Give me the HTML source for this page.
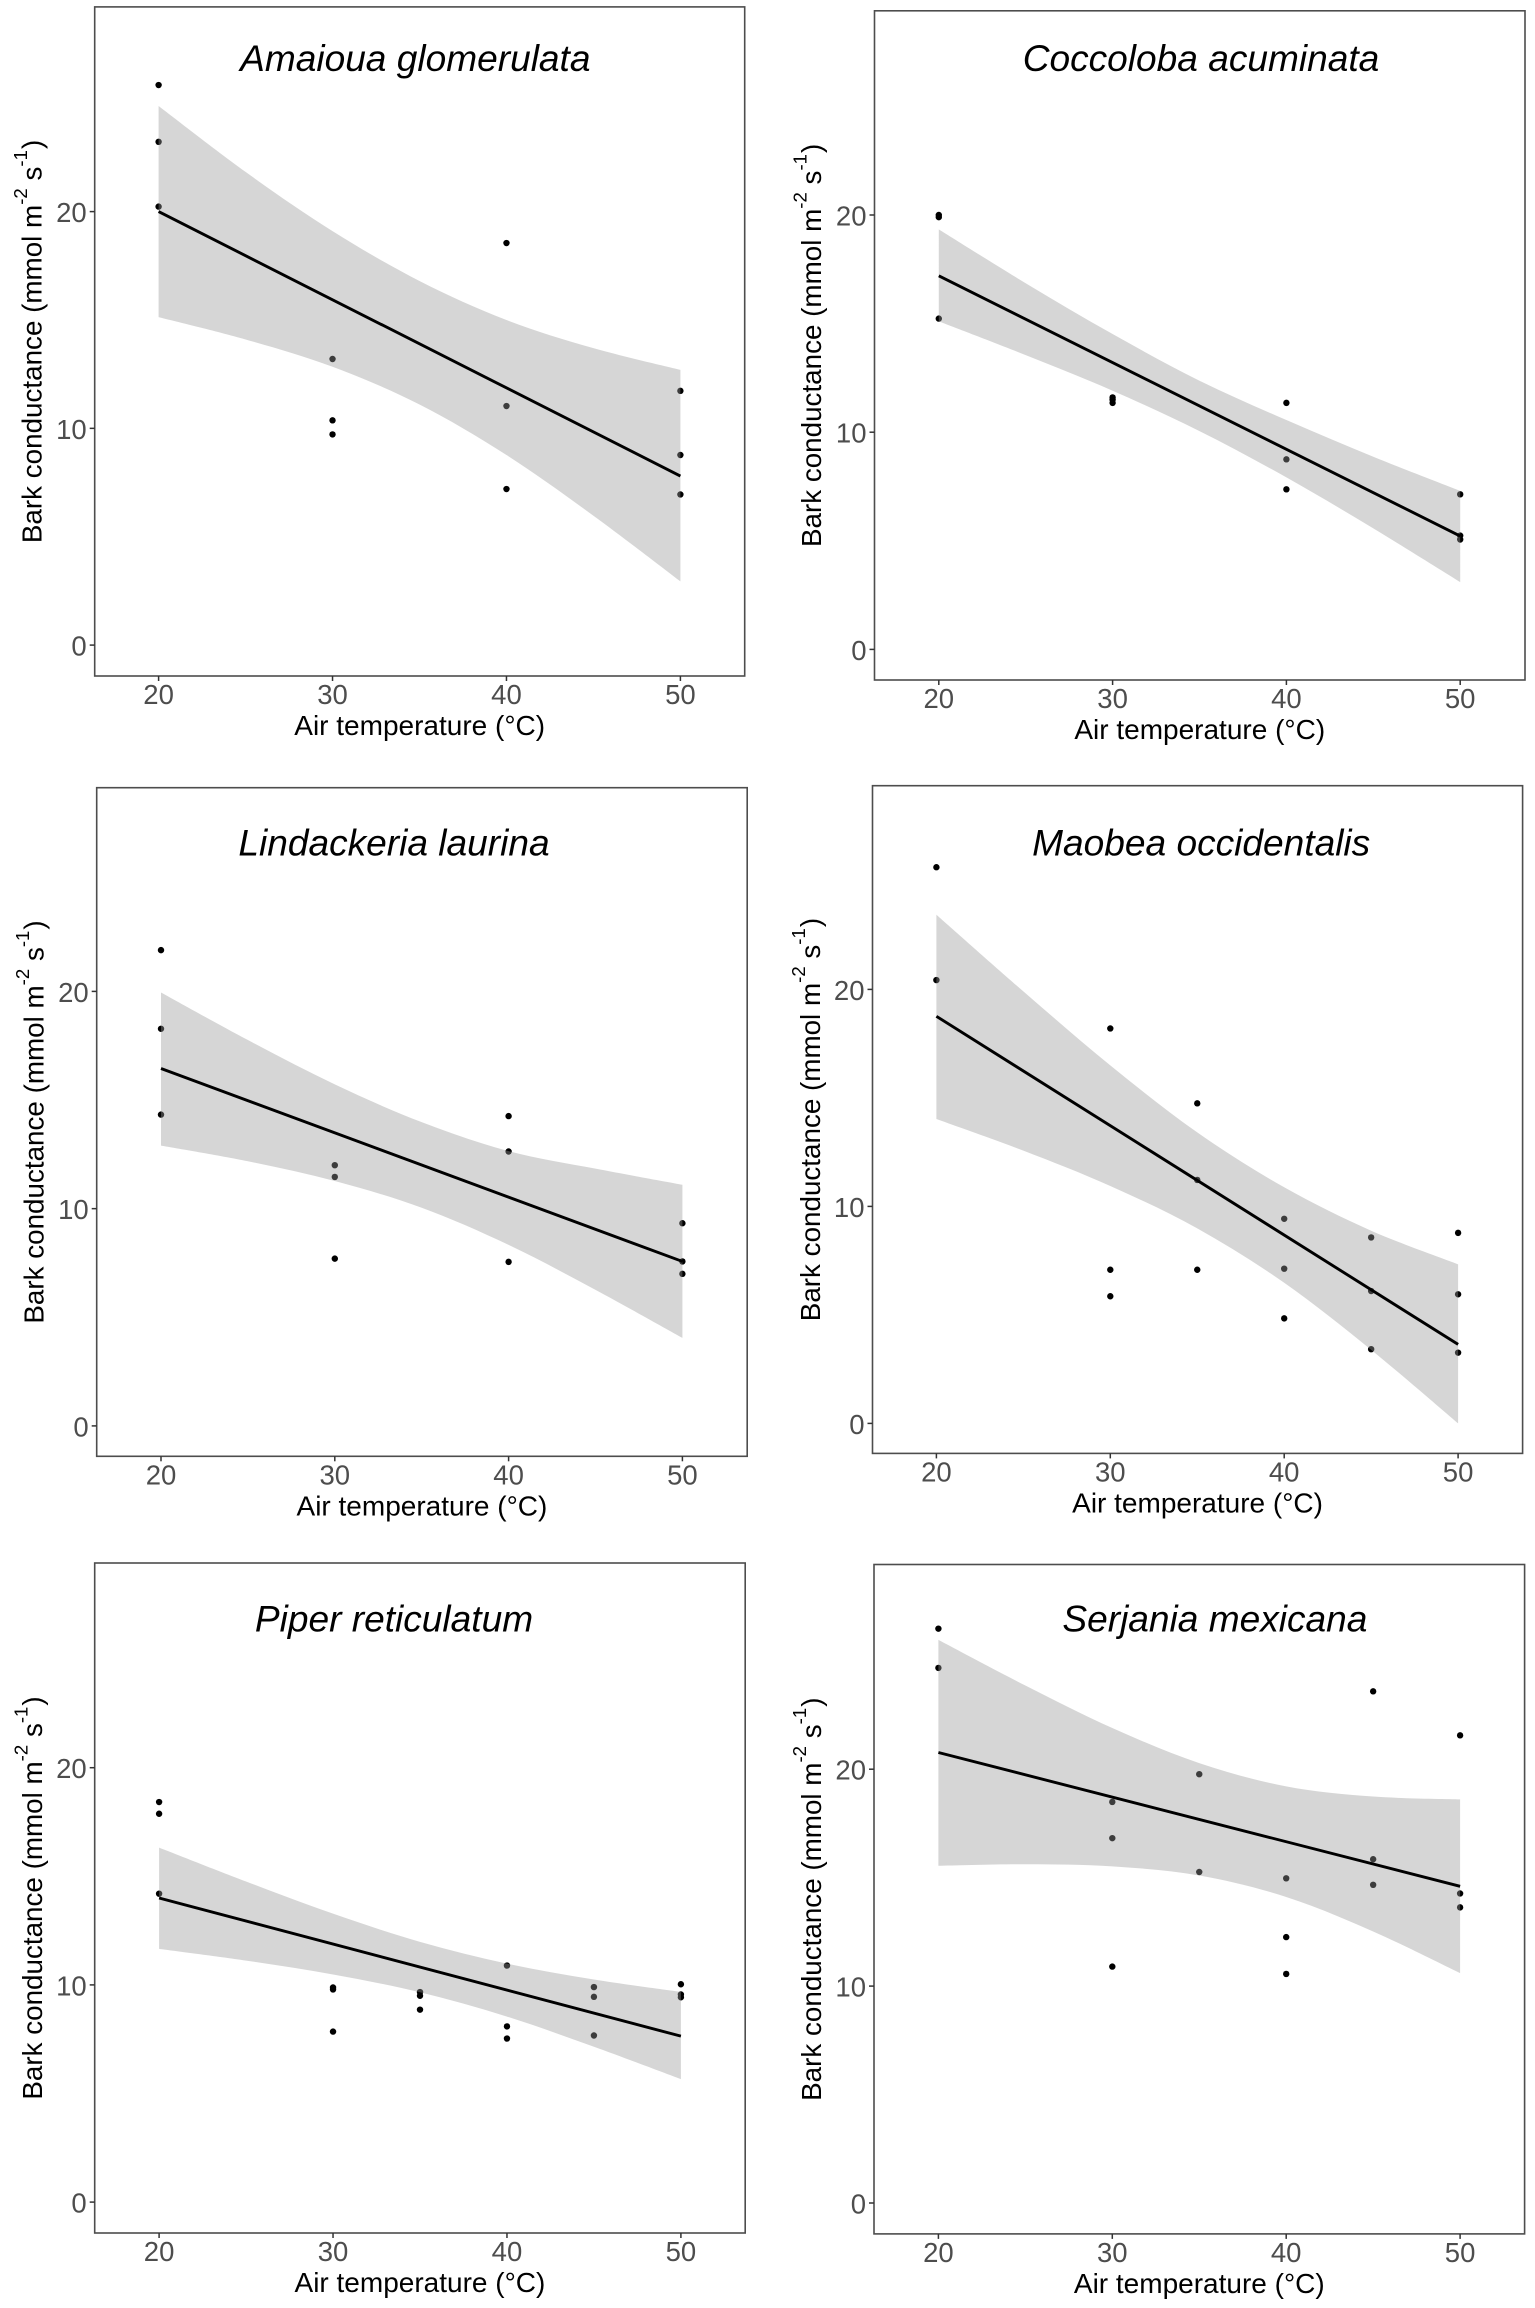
<!DOCTYPE html>
<html lang="en">
<head>
<meta charset="utf-8">
<title>Bark conductance vs air temperature</title>
<style>
  html, body { margin: 0; padding: 0; background: #ffffff; }
  svg { display: block; font-family: "Liberation Sans", Arial, sans-serif; }
  text { white-space: pre; }
</style>
</head>
<body>
<svg id="figure" xmlns="http://www.w3.org/2000/svg" width="1535" height="2308" viewBox="0 0 1535 2308"></svg>
<script>
const xTickValues = [20, 30, 40, 50];
const yTickValues = [0, 10, 20];
const bandTemps = [20, 25, 30, 35, 40, 45, 50];
const fitTemps = [20, 50];

const amaiouaTitle = "Amaioua glomerulata";
const amaiouaTemp = [20, 20, 20, 30, 30, 30, 40, 40, 40, 50, 50, 50];
const amaiouaCond = [25.84, 23.22, 20.23, 13.2, 10.37, 9.72, 18.55, 11.03, 7.2, 11.73, 8.77, 6.95];
const amaiouaFit = [20.0, 7.8];
const amaiouaUpper = [24.87, 21.83, 19.1, 16.8, 15.0, 13.7, 12.7];
const amaiouaLower = [15.13, 14.1, 12.84, 11.1, 8.77, 5.97, 2.94];

const coccolobaTitle = "Coccoloba acuminata";
const coccolobaTemp = [20, 20, 20, 30, 30, 30, 40, 40, 40, 50, 50, 50];
const coccolobaCond = [20.0, 19.9, 15.23, 11.6, 11.5, 11.35, 11.35, 8.75, 7.37, 7.14, 5.24, 5.06];
const coccolobaFit = [17.2, 5.22];
const coccolobaUpper = [19.34, 16.86, 14.52, 12.37, 10.56, 8.87, 7.3];
const coccolobaLower = [15.1, 13.55, 11.91, 10.05, 7.92, 5.57, 3.1];

const lindackeriaTitle = "Lindackeria laurina";
const lindackeriaTemp = [20, 20, 20, 30, 30, 30, 40, 40, 40, 50, 50, 50];
const lindackeriaCond = [21.9, 18.28, 14.33, 12.0, 11.46, 7.7, 14.26, 12.63, 7.55, 9.33, 7.57, 7.0];
const lindackeriaFit = [16.45, 7.57];
const lindackeriaUpper = [19.95, 17.76, 15.72, 13.98, 12.65, 11.84, 11.1];
const lindackeriaLower = [12.9, 12.18, 11.27, 10.04, 8.33, 6.26, 4.05];

const maobeaTitle = "Maobea occidentalis";
const maobeaTemp = [20, 20, 30, 30, 30, 35, 35, 35, 40, 40, 40, 45, 45, 45, 50, 50, 50];
const maobeaCond = [25.63, 20.43, 18.2, 7.08, 5.86, 14.75, 11.22, 7.08, 9.43, 7.13, 4.84, 8.57, 6.1, 3.42, 8.78, 5.95, 3.26];
const maobeaFit = [18.76, 3.64];
const maobeaUpper = [23.44, 19.91, 16.5, 13.41, 10.88, 8.88, 7.33];
const maobeaLower = [14.03, 12.57, 10.94, 8.99, 6.48, 3.39, 0.0];

const piperTitle = "Piper reticulatum";
const piperTemp = [20, 20, 20, 30, 30, 30, 35, 35, 35, 40, 40, 40, 45, 45, 45, 50, 50, 50];
const piperCond = [18.42, 17.88, 14.2, 9.88, 9.79, 7.85, 9.67, 9.5, 8.86, 10.89, 8.09, 7.53, 9.9, 9.45, 7.67, 10.03, 9.56, 9.43];
const piperFit = [14.0, 7.64];
const piperUpper = [16.32, 14.76, 13.28, 11.98, 10.98, 10.25, 9.68];
const piperLower = [11.66, 11.12, 10.48, 9.66, 8.54, 7.15, 5.66];

const serjaniaTitle = "Serjania mexicana";
const serjaniaTemp = [20, 20, 30, 30, 30, 35, 35, 40, 40, 40, 45, 45, 45, 50, 50, 50];
const serjaniaCond = [26.48, 24.67, 18.49, 16.82, 10.9, 19.77, 15.26, 14.97, 12.26, 10.56, 23.59, 15.85, 14.67, 21.56, 14.27, 13.63];
const serjaniaFit = [20.77, 14.6];
const serjaniaUpper = [25.96, 23.86, 21.9, 20.28, 19.21, 18.74, 18.61];
const serjaniaLower = [15.55, 15.62, 15.52, 15.1, 14.11, 12.52, 10.6];

const xAxisLabel = "Air temperature (°C)";
const yAxisLabelMain = "Bark conductance (mmol m";
const yAxisLabelSup1 = "-2";
const yAxisLabelMid = " s";
const yAxisLabelSup2 = "-1";
const yAxisLabelEnd = ")";

const panels = [
  { key: "amaioua", title: amaiouaTitle, temp: amaiouaTemp, cond: amaiouaCond, fit: amaiouaFit, upper: amaiouaUpper, lower: amaiouaLower,
    box: { L: 94.7, R: 744.7, T: 6.9, B: 676, x20: 158.6, x50: 680.4, y0: 645.1, y20: 211.6, titleX: 415.3, titleY: 71.2, yTitleX: 41.7 } },
  { key: "coccoloba", title: coccolobaTitle, temp: coccolobaTemp, cond: coccolobaCond, fit: coccolobaFit, upper: coccolobaUpper, lower: coccolobaLower,
    box: { L: 874.5, R: 1525, T: 10.8, B: 680, x20: 938.8, x50: 1460.2, y0: 649.4, y20: 215.0, titleX: 1201, titleY: 71.2, yTitleX: 821.2 } },
  { key: "lindackeria", title: lindackeriaTitle, temp: lindackeriaTemp, cond: lindackeriaCond, fit: lindackeriaFit, upper: lindackeriaUpper, lower: lindackeriaLower,
    box: { L: 96.7, R: 747.2, T: 787.7, B: 1456.3, x20: 161.0, x50: 682.4, y0: 1425.9, y20: 991.4, titleX: 394, titleY: 855.4, yTitleX: 43.7 } },
  { key: "maobea", title: maobeaTitle, temp: maobeaTemp, cond: maobeaCond, fit: maobeaFit, upper: maobeaUpper, lower: maobeaLower,
    box: { L: 872.5, R: 1522.6, T: 785.7, B: 1453.4, x20: 936.4, x50: 1458.1, y0: 1423.4, y20: 989.4, titleX: 1201.2, titleY: 855.4, yTitleX: 819.8 } },
  { key: "piper", title: piperTitle, temp: piperTemp, cond: piperCond, fit: piperFit, upper: piperUpper, lower: piperLower,
    box: { L: 94.7, R: 745.2, T: 1563, B: 2233, x20: 159.1, x50: 680.9, y0: 2202.1, y20: 1767.7, titleX: 394, titleY: 1631.6, yTitleX: 42.2 } },
  { key: "serjania", title: serjaniaTitle, temp: serjaniaTemp, cond: serjaniaCond, fit: serjaniaFit, upper: serjaniaUpper, lower: serjaniaLower,
    box: { L: 874, R: 1524.6, T: 1564.5, B: 2233.9, x20: 938.4, x50: 1460.1, y0: 2203, y20: 1769.2, titleX: 1214.9, titleY: 1631.6, yTitleX: 820.8 } }
];

const SVG_NS = "http://www.w3.org/2000/svg";
const figure = document.getElementById("figure");

function make(tag, attrs, parent) {
  const node = document.createElementNS(SVG_NS, tag);
  for (const k in attrs) node.setAttribute(k, attrs[k]);
  parent.appendChild(node);
  return node;
}

function smoothSegments(pts) {
  let d = "";
  for (let i = 0; i < pts.length - 1; i++) {
    const p0 = pts[Math.max(i - 1, 0)];
    const p1 = pts[i];
    const p2 = pts[i + 1];
    const p3 = pts[Math.min(i + 2, pts.length - 1)];
    const c1x = p1[0] + (p2[0] - p0[0]) / 6;
    const c1y = p1[1] + (p2[1] - p0[1]) / 6;
    const c2x = p2[0] - (p3[0] - p1[0]) / 6;
    const c2y = p2[1] - (p3[1] - p1[1]) / 6;
    d += " C" + c1x.toFixed(2) + " " + c1y.toFixed(2) + " " + c2x.toFixed(2) + " " + c2y.toFixed(2) + " " + p2[0].toFixed(2) + " " + p2[1].toFixed(2);
  }
  return d;
}

function renderPanel(panel) {
  const b = panel.box;
  const xScale = function (v) { return b.x20 + (v - 20) * (b.x50 - b.x20) / 30; };
  const yScale = function (v) { return b.y0 - v * (b.y0 - b.y20) / 20; };

  const group = make("g", {}, figure);
  
  

  const background = make("rect", { x: b.L, y: b.T, width: b.R - b.L, height: b.B - b.T, fill: "#ffffff" }, group);
  
  

  const pointsGroup = make("g", { fill: "#000000" }, group);
  
  
  panel.temp.forEach(function (t, i) {
    const dot = make("circle", { cx: xScale(t).toFixed(2), cy: yScale(panel.cond[i]).toFixed(2), r: 3.2 }, pointsGroup);
    
    
  });

  const upperPts = bandTemps.map(function (t, i) { return [xScale(t), yScale(panel.upper[i])]; });
  const lowerPts = bandTemps.map(function (t, i) { return [xScale(t), yScale(panel.lower[i])]; }).reverse();
  const bandPath = "M" + upperPts[0][0].toFixed(2) + " " + upperPts[0][1].toFixed(2) + smoothSegments(upperPts) +
    " L" + lowerPts[0][0].toFixed(2) + " " + lowerPts[0][1].toFixed(2) + smoothSegments(lowerPts) + " Z";
  const band = make("path", { d: bandPath, fill: "#999999", "fill-opacity": 0.4 }, group);
  
  

  const fitLine = make("line", {
    x1: xScale(fitTemps[0]), y1: yScale(panel.fit[0]),
    x2: xScale(fitTemps[1]), y2: yScale(panel.fit[1]),
    stroke: "#000000", "stroke-width": 2.9
  }, group);
  
  

  const frame = make("rect", { x: b.L, y: b.T, width: b.R - b.L, height: b.B - b.T, fill: "none", stroke: "#4d4d4d", "stroke-width": 1.6 }, group);
  
  

  xTickValues.forEach(function (v) {
    const tick = make("line", { x1: xScale(v), y1: b.B, x2: xScale(v), y2: b.B + 5, stroke: "#333333", "stroke-width": 1.5 }, group);
    
    
    const label = make("text", { x: xScale(v), y: b.B + 28, "text-anchor": "middle", "font-size": 27.5, fill: "#4d4d4d" }, group);
    label.textContent = String(v);
    
    
  });

  yTickValues.forEach(function (v) {
    const tick = make("line", { x1: b.L - 5, y1: yScale(v), x2: b.L, y2: yScale(v), stroke: "#333333", "stroke-width": 1.5 }, group);
    
    
    const label = make("text", { x: b.L - 8, y: yScale(v) + 10.4, "text-anchor": "end", "font-size": 27.5, fill: "#4d4d4d" }, group);
    label.textContent = String(v);
    
    
  });

  const title = make("text", { x: b.titleX, y: b.titleY, "text-anchor": "middle", "font-size": 37.1, "font-style": "italic", fill: "#000000" }, group);
  title.textContent = panel.title;
  
  

  const xTitle = make("text", { x: (b.L + b.R) / 2, y: b.B + 59, "text-anchor": "middle", "font-size": 28, fill: "#000000" }, group);
  xTitle.textContent = xAxisLabel;
  
  

  const yCenter = (b.T + b.B) / 2;
  const yTitle = make("text", {
    transform: "translate(" + b.yTitleX + " " + yCenter + ") rotate(-90)",
    x: 0, y: 0, "text-anchor": "middle", "font-size": 27.8, fill: "#000000"
  }, group);
  
  
  const partMain = make("tspan", {}, yTitle);
  partMain.textContent = yAxisLabelMain;
  const partSup1 = make("tspan", { dy: -14.8, "font-size": 18.6 }, yTitle);
  partSup1.textContent = yAxisLabelSup1;
  const partMid = make("tspan", { dy: 14.8 }, yTitle);
  partMid.textContent = yAxisLabelMid;
  const partSup2 = make("tspan", { dy: -14.8, "font-size": 18.6 }, yTitle);
  partSup2.textContent = yAxisLabelSup2;
  const partEnd = make("tspan", { dy: 14.8, dx: 1 }, yTitle);
  partEnd.textContent = yAxisLabelEnd;
}

panels.forEach(renderPanel);
</script>
</body>
</html>
